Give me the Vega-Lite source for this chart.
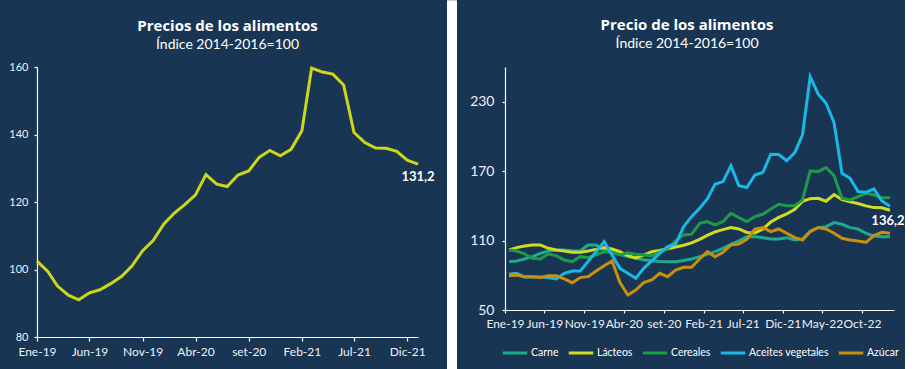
{
  "$schema": "https://vega.github.io/schema/vega-lite/v6.json",
  "background": "#193554",
  "padding": {"top": 0, "left": 8, "right": 0, "bottom": 0},
  "spacing": 12,
  "resolve": {"scale": {"color": "independent"}, "legend": {"color": "independent"}},
  "config": {
    "font": "Lato",
    "view": {"stroke": null},
    "locale": {"number": {"decimal": ",", "thousands": ".", "grouping": [3], "currency": ["", ""]}},
    "axis": {"grid": false, "title": null, "domainColor": "#ffffff", "tickColor": "#ffffff", "labelColor": "#eef1f5", "domainWidth": 1.2, "tickWidth": 1.2},
    "legend": {"layout": {"bottom": {"anchor": "middle"}}}
  },
  "hconcat": [
    {
      "width": 381,
      "height": 270,
      "title": {"text": "Precios de los alimentos", "subtitle": "Índice 2014-2016=100", "anchor": "middle", "frame": "group", "color": "#ffffff", "subtitleColor": "#ffffff", "font": "Open Sans", "fontSize": 15, "fontWeight": "bold", "subtitleFont": "Lato", "subtitleFontSize": 14, "subtitleFontWeight": "normal", "subtitlePadding": 4, "offset": 9},
      "data": {"values": [
        {"fecha": "2019-01-01", "valor": 102.5}, {"fecha": "2019-02-01", "valor": 99.4}, {"fecha": "2019-03-01", "valor": 95.1}, {"fecha": "2019-04-01", "valor": 92.4},
        {"fecha": "2019-05-01", "valor": 91.0}, {"fecha": "2019-06-01", "valor": 93.1}, {"fecha": "2019-07-01", "valor": 94.0}, {"fecha": "2019-08-01", "valor": 95.8},
        {"fecha": "2019-09-01", "valor": 97.9}, {"fecha": "2019-10-01", "valor": 101.0}, {"fecha": "2019-11-01", "valor": 105.6}, {"fecha": "2019-12-01", "valor": 108.6},
        {"fecha": "2020-01-01", "valor": 113.5}, {"fecha": "2020-02-01", "valor": 116.8}, {"fecha": "2020-03-01", "valor": 119.2}, {"fecha": "2020-04-01", "valor": 122.1},
        {"fecha": "2020-05-01", "valor": 128.1}, {"fecha": "2020-06-01", "valor": 125.3}, {"fecha": "2020-07-01", "valor": 124.6}, {"fecha": "2020-08-01", "valor": 128.0},
        {"fecha": "2020-09-01", "valor": 129.2}, {"fecha": "2020-10-01", "valor": 133.2}, {"fecha": "2020-11-01", "valor": 135.3}, {"fecha": "2020-12-01", "valor": 133.7},
        {"fecha": "2021-01-01", "valor": 135.6}, {"fecha": "2021-02-01", "valor": 141.1}, {"fecha": "2021-03-01", "valor": 159.7}, {"fecha": "2021-04-01", "valor": 158.5},
        {"fecha": "2021-05-01", "valor": 157.9}, {"fecha": "2021-06-01", "valor": 154.7}, {"fecha": "2021-07-01", "valor": 140.6}, {"fecha": "2021-08-01", "valor": 137.6},
        {"fecha": "2021-09-01", "valor": 136.0}, {"fecha": "2021-10-01", "valor": 135.9}, {"fecha": "2021-11-01", "valor": 135.0}, {"fecha": "2021-12-01", "valor": 132.4},
        {"fecha": "2022-01-01", "valor": 131.2}
      ]},
      "encoding": {
        "x": {"field": "fecha", "type": "temporal",
          "scale": {"type": "utc", "domain": [{"year": 2019, "month": 1, "date": 1, "utc": true}, {"year": 2022, "month": 1, "date": 1, "utc": true}]},
          "axis": {"values": [
            {"year": 2019, "month": 1, "date": 1, "utc": true}, {"year": 2019, "month": 6, "date": 1, "utc": true}, {"year": 2019, "month": 11, "date": 1, "utc": true},
            {"year": 2020, "month": 4, "date": 1, "utc": true}, {"year": 2020, "month": 9, "date": 1, "utc": true}, {"year": 2021, "month": 2, "date": 1, "utc": true},
            {"year": 2021, "month": 7, "date": 1, "utc": true}, {"year": 2021, "month": 12, "date": 1, "utc": true}],
            "labelExpr": "['Ene','Feb','Mar','Abr','May','Jun','Jul','Ago','set','Oct','Nov','Dic'][utcmonth(datum.value)] + '-' + utcFormat(datum.value, '%y')",
            "labelFontSize": 12, "labelPadding": 5, "tickSize": 4, "labelOverlap": false, "labelFlush": false}},
        "y": {"field": "valor", "type": "quantitative",
          "scale": {"domain": [80, 160], "nice": false, "zero": false},
          "axis": {"values": [80, 100, 120, 140, 160], "labelFontSize": 11, "labelPadding": 6, "tickSize": 3}}
      },
      "layer": [
        {"mark": {"type": "line", "color": "#cdd619", "strokeWidth": 3}},
        {"transform": [{"filter": "time(datum.fecha) == utc(2022, 0, 1)"}],
         "mark": {"type": "text", "color": "#ffffff", "fontWeight": "bold", "fontSize": 13, "dy": 13, "baseline": "middle", "align": "center"},
         "encoding": {"text": {"field": "valor", "type": "quantitative", "format": ".1f"}}}
      ]
    },
    {
      "width": 10,
      "height": 303,
      "data": {"values": [{}]},
      "mark": {"type": "rect", "color": "#ffffff"},
      "encoding": {
        "x": {"datum": 0, "type": "quantitative", "scale": {"domain": [0, 1], "nice": false}, "axis": null},
        "x2": {"datum": 1},
        "y": {"datum": 1.22, "type": "quantitative", "scale": {"domain": [0, 1], "nice": false}, "axis": null},
        "y2": {"datum": 0}
      }
    },
    {
      "width": 389,
      "height": 243,
      "title": {"text": "Precio de los alimentos", "subtitle": "Índice 2014-2016=100", "anchor": "middle", "frame": "bounds", "color": "#ffffff", "subtitleColor": "#ffffff", "font": "Open Sans", "fontSize": 15, "fontWeight": "bold", "subtitleFont": "Lato", "subtitleFontSize": 14, "subtitleFontWeight": "normal", "subtitlePadding": 4, "offset": 16},
      "data": {"values": [
        {"fecha": "2019-01-01", "serie": "Carne", "valor": 91.8}, {"fecha": "2019-02-01", "serie": "Carne", "valor": 92.4}, {"fecha": "2019-03-01", "serie": "Carne", "valor": 94.1}, {"fecha": "2019-04-01", "serie": "Carne", "valor": 96.1},
        {"fecha": "2019-05-01", "serie": "Carne", "valor": 99.0}, {"fecha": "2019-06-01", "serie": "Carne", "valor": 101.0}, {"fecha": "2019-07-01", "serie": "Carne", "valor": 101.9}, {"fecha": "2019-08-01", "serie": "Carne", "valor": 101.9},
        {"fecha": "2019-09-01", "serie": "Carne", "valor": 101.3}, {"fecha": "2019-10-01", "serie": "Carne", "valor": 101.0}, {"fecha": "2019-11-01", "serie": "Carne", "valor": 106.2}, {"fecha": "2019-12-01", "serie": "Carne", "valor": 106.2},
        {"fecha": "2020-01-01", "serie": "Carne", "valor": 101.9}, {"fecha": "2020-02-01", "serie": "Carne", "valor": 99.9}, {"fecha": "2020-03-01", "serie": "Carne", "valor": 98.1}, {"fecha": "2020-04-01", "serie": "Carne", "valor": 96.1},
        {"fecha": "2020-05-01", "serie": "Carne", "valor": 94.7}, {"fecha": "2020-06-01", "serie": "Carne", "valor": 93.5}, {"fecha": "2020-07-01", "serie": "Carne", "valor": 92.5}, {"fecha": "2020-08-01", "serie": "Carne", "valor": 92.0},
        {"fecha": "2020-09-01", "serie": "Carne", "valor": 91.7}, {"fecha": "2020-10-01", "serie": "Carne", "valor": 91.8}, {"fecha": "2020-11-01", "serie": "Carne", "valor": 92.8}, {"fecha": "2020-12-01", "serie": "Carne", "valor": 94.0},
        {"fecha": "2021-01-01", "serie": "Carne", "valor": 96.1}, {"fecha": "2021-02-01", "serie": "Carne", "valor": 98.1}, {"fecha": "2021-03-01", "serie": "Carne", "valor": 100.4}, {"fecha": "2021-04-01", "serie": "Carne", "valor": 103.3},
        {"fecha": "2021-05-01", "serie": "Carne", "valor": 106.8}, {"fecha": "2021-06-01", "serie": "Carne", "valor": 109.7}, {"fecha": "2021-07-01", "serie": "Carne", "valor": 113.4}, {"fecha": "2021-08-01", "serie": "Carne", "valor": 113.4},
        {"fecha": "2021-09-01", "serie": "Carne", "valor": 112.5}, {"fecha": "2021-10-01", "serie": "Carne", "valor": 111.4}, {"fecha": "2021-11-01", "serie": "Carne", "valor": 111.4}, {"fecha": "2021-12-01", "serie": "Carne", "valor": 112.5},
        {"fecha": "2022-01-01", "serie": "Carne", "valor": 110.5}, {"fecha": "2022-02-01", "serie": "Carne", "valor": 111.4}, {"fecha": "2022-03-01", "serie": "Carne", "valor": 118.3}, {"fecha": "2022-04-01", "serie": "Carne", "valor": 121.2},
        {"fecha": "2022-05-01", "serie": "Carne", "valor": 122.0}, {"fecha": "2022-06-01", "serie": "Carne", "valor": 125.5}, {"fecha": "2022-07-01", "serie": "Carne", "valor": 124.1}, {"fecha": "2022-08-01", "serie": "Carne", "valor": 121.2},
        {"fecha": "2022-09-01", "serie": "Carne", "valor": 120.0}, {"fecha": "2022-10-01", "serie": "Carne", "valor": 116.3}, {"fecha": "2022-11-01", "serie": "Carne", "valor": 114.0}, {"fecha": "2022-12-01", "serie": "Carne", "valor": 113.4},
        {"fecha": "2023-01-01", "serie": "Carne", "valor": 113.4},

        {"fecha": "2019-01-01", "serie": "Lácteos", "valor": 101.9}, {"fecha": "2019-02-01", "serie": "Lácteos", "valor": 103.9}, {"fecha": "2019-03-01", "serie": "Lácteos", "valor": 105.3}, {"fecha": "2019-04-01", "serie": "Lácteos", "valor": 106.2},
        {"fecha": "2019-05-01", "serie": "Lácteos", "valor": 106.2}, {"fecha": "2019-06-01", "serie": "Lácteos", "valor": 103.3}, {"fecha": "2019-07-01", "serie": "Lácteos", "valor": 101.9}, {"fecha": "2019-08-01", "serie": "Lácteos", "valor": 101.0},
        {"fecha": "2019-09-01", "serie": "Lácteos", "valor": 99.8}, {"fecha": "2019-10-01", "serie": "Lácteos", "valor": 99.8}, {"fecha": "2019-11-01", "serie": "Lácteos", "valor": 101.0}, {"fecha": "2019-12-01", "serie": "Lácteos", "valor": 102.4},
        {"fecha": "2020-01-01", "serie": "Lácteos", "valor": 103.9}, {"fecha": "2020-02-01", "serie": "Lácteos", "valor": 102.7}, {"fecha": "2020-03-01", "serie": "Lácteos", "valor": 100.5}, {"fecha": "2020-04-01", "serie": "Lácteos", "valor": 97.0},
        {"fecha": "2020-05-01", "serie": "Lácteos", "valor": 95.0}, {"fecha": "2020-06-01", "serie": "Lácteos", "valor": 97.5}, {"fecha": "2020-07-01", "serie": "Lácteos", "valor": 100.4}, {"fecha": "2020-08-01", "serie": "Lácteos", "valor": 101.5},
        {"fecha": "2020-09-01", "serie": "Lácteos", "valor": 103.0}, {"fecha": "2020-10-01", "serie": "Lácteos", "valor": 104.5}, {"fecha": "2020-11-01", "serie": "Lácteos", "valor": 106.0}, {"fecha": "2020-12-01", "serie": "Lácteos", "valor": 108.0},
        {"fecha": "2021-01-01", "serie": "Lácteos", "valor": 111.0}, {"fecha": "2021-02-01", "serie": "Lácteos", "valor": 114.5}, {"fecha": "2021-03-01", "serie": "Lácteos", "valor": 117.5}, {"fecha": "2021-04-01", "serie": "Lácteos", "valor": 119.5},
        {"fecha": "2021-05-01", "serie": "Lácteos", "valor": 121.2}, {"fecha": "2021-06-01", "serie": "Lácteos", "valor": 120.0}, {"fecha": "2021-07-01", "serie": "Lácteos", "valor": 117.0}, {"fecha": "2021-08-01", "serie": "Lácteos", "valor": 116.5},
        {"fecha": "2021-09-01", "serie": "Lácteos", "valor": 120.0}, {"fecha": "2021-10-01", "serie": "Lácteos", "valor": 126.0}, {"fecha": "2021-11-01", "serie": "Lácteos", "valor": 130.0}, {"fecha": "2021-12-01", "serie": "Lácteos", "valor": 133.0},
        {"fecha": "2022-01-01", "serie": "Lácteos", "valor": 137.0}, {"fecha": "2022-02-01", "serie": "Lácteos", "valor": 144.0}, {"fecha": "2022-03-01", "serie": "Lácteos", "valor": 146.2}, {"fecha": "2022-04-01", "serie": "Lácteos", "valor": 146.5},
        {"fecha": "2022-05-01", "serie": "Lácteos", "valor": 144.0}, {"fecha": "2022-06-01", "serie": "Lácteos", "valor": 149.8}, {"fecha": "2022-07-01", "serie": "Lácteos", "valor": 145.5}, {"fecha": "2022-08-01", "serie": "Lácteos", "valor": 143.5},
        {"fecha": "2022-09-01", "serie": "Lácteos", "valor": 142.0}, {"fecha": "2022-10-01", "serie": "Lácteos", "valor": 140.0}, {"fecha": "2022-11-01", "serie": "Lácteos", "valor": 138.5}, {"fecha": "2022-12-01", "serie": "Lácteos", "valor": 138.3},
        {"fecha": "2023-01-01", "serie": "Lácteos", "valor": 136.2},

        {"fecha": "2019-01-01", "serie": "Cereales", "valor": 101.9}, {"fecha": "2019-02-01", "serie": "Cereales", "valor": 101.0}, {"fecha": "2019-03-01", "serie": "Cereales", "valor": 98.5}, {"fecha": "2019-04-01", "serie": "Cereales", "valor": 94.7},
        {"fecha": "2019-05-01", "serie": "Cereales", "valor": 94.1}, {"fecha": "2019-06-01", "serie": "Cereales", "valor": 98.4}, {"fecha": "2019-07-01", "serie": "Cereales", "valor": 97.0}, {"fecha": "2019-08-01", "serie": "Cereales", "valor": 93.2},
        {"fecha": "2019-09-01", "serie": "Cereales", "valor": 91.8}, {"fecha": "2019-10-01", "serie": "Cereales", "valor": 96.1}, {"fecha": "2019-11-01", "serie": "Cereales", "valor": 95.2}, {"fecha": "2019-12-01", "serie": "Cereales", "valor": 97.6},
        {"fecha": "2020-01-01", "serie": "Cereales", "valor": 100.4}, {"fecha": "2020-02-01", "serie": "Cereales", "valor": 99.9}, {"fecha": "2020-03-01", "serie": "Cereales", "valor": 97.6}, {"fecha": "2020-04-01", "serie": "Cereales", "valor": 99.5},
        {"fecha": "2020-05-01", "serie": "Cereales", "valor": 98.1}, {"fecha": "2020-06-01", "serie": "Cereales", "valor": 97.6}, {"fecha": "2020-07-01", "serie": "Cereales", "valor": 97.0}, {"fecha": "2020-08-01", "serie": "Cereales", "valor": 99.9},
        {"fecha": "2020-09-01", "serie": "Cereales", "valor": 103.3}, {"fecha": "2020-10-01", "serie": "Cereales", "valor": 109.7}, {"fecha": "2020-11-01", "serie": "Cereales", "valor": 114.9}, {"fecha": "2020-12-01", "serie": "Cereales", "valor": 115.4},
        {"fecha": "2021-01-01", "serie": "Cereales", "valor": 124.9}, {"fecha": "2021-02-01", "serie": "Cereales", "valor": 126.4}, {"fecha": "2021-03-01", "serie": "Cereales", "valor": 123.5}, {"fecha": "2021-04-01", "serie": "Cereales", "valor": 126.4},
        {"fecha": "2021-05-01", "serie": "Cereales", "valor": 133.6}, {"fecha": "2021-06-01", "serie": "Cereales", "valor": 129.8}, {"fecha": "2021-07-01", "serie": "Cereales", "valor": 126.4}, {"fecha": "2021-08-01", "serie": "Cereales", "valor": 130.7},
        {"fecha": "2021-09-01", "serie": "Cereales", "valor": 132.7}, {"fecha": "2021-10-01", "serie": "Cereales", "valor": 137.3}, {"fecha": "2021-11-01", "serie": "Cereales", "valor": 141.4}, {"fecha": "2021-12-01", "serie": "Cereales", "valor": 140.2},
        {"fecha": "2022-01-01", "serie": "Cereales", "valor": 140.2}, {"fecha": "2022-02-01", "serie": "Cereales", "valor": 145.1}, {"fecha": "2022-03-01", "serie": "Cereales", "valor": 170.2}, {"fecha": "2022-04-01", "serie": "Cereales", "valor": 169.6},
        {"fecha": "2022-05-01", "serie": "Cereales", "valor": 173.1}, {"fecha": "2022-06-01", "serie": "Cereales", "valor": 166.1}, {"fecha": "2022-07-01", "serie": "Cereales", "valor": 146.5}, {"fecha": "2022-08-01", "serie": "Cereales", "valor": 145.1},
        {"fecha": "2022-09-01", "serie": "Cereales", "valor": 148.0}, {"fecha": "2022-10-01", "serie": "Cereales", "valor": 150.9}, {"fecha": "2022-11-01", "serie": "Cereales", "valor": 149.4}, {"fecha": "2022-12-01", "serie": "Cereales", "valor": 147.1},
        {"fecha": "2023-01-01", "serie": "Cereales", "valor": 147.1},

        {"fecha": "2019-01-01", "serie": "Aceites vegetales", "valor": 80.8}, {"fecha": "2019-02-01", "serie": "Aceites vegetales", "valor": 81.7}, {"fecha": "2019-03-01", "serie": "Aceites vegetales", "valor": 78.5}, {"fecha": "2019-04-01", "serie": "Aceites vegetales", "valor": 78.5},
        {"fecha": "2019-05-01", "serie": "Aceites vegetales", "valor": 78.5}, {"fecha": "2019-06-01", "serie": "Aceites vegetales", "valor": 78.0}, {"fecha": "2019-07-01", "serie": "Aceites vegetales", "valor": 76.8}, {"fecha": "2019-08-01", "serie": "Aceites vegetales", "valor": 81.7},
        {"fecha": "2019-09-01", "serie": "Aceites vegetales", "valor": 83.7}, {"fecha": "2019-10-01", "serie": "Aceites vegetales", "valor": 83.7}, {"fecha": "2019-11-01", "serie": "Aceites vegetales", "valor": 92.0}, {"fecha": "2019-12-01", "serie": "Aceites vegetales", "valor": 100.4},
        {"fecha": "2020-01-01", "serie": "Aceites vegetales", "valor": 109.1}, {"fecha": "2020-02-01", "serie": "Aceites vegetales", "valor": 97.6}, {"fecha": "2020-03-01", "serie": "Aceites vegetales", "valor": 86.0}, {"fecha": "2020-04-01", "serie": "Aceites vegetales", "valor": 81.7},
        {"fecha": "2020-05-01", "serie": "Aceites vegetales", "valor": 77.4}, {"fecha": "2020-06-01", "serie": "Aceites vegetales", "valor": 86.0}, {"fecha": "2020-07-01", "serie": "Aceites vegetales", "valor": 92.4}, {"fecha": "2020-08-01", "serie": "Aceites vegetales", "valor": 99.0},
        {"fecha": "2020-09-01", "serie": "Aceites vegetales", "valor": 104.8}, {"fecha": "2020-10-01", "serie": "Aceites vegetales", "valor": 106.8}, {"fecha": "2020-11-01", "serie": "Aceites vegetales", "valor": 122.0}, {"fecha": "2020-12-01", "serie": "Aceites vegetales", "valor": 130.7},
        {"fecha": "2021-01-01", "serie": "Aceites vegetales", "valor": 137.9}, {"fecha": "2021-02-01", "serie": "Aceites vegetales", "valor": 146.0}, {"fecha": "2021-03-01", "serie": "Aceites vegetales", "valor": 158.6}, {"fecha": "2021-04-01", "serie": "Aceites vegetales", "valor": 161.0},
        {"fecha": "2021-05-01", "serie": "Aceites vegetales", "valor": 174.8}, {"fecha": "2021-06-01", "serie": "Aceites vegetales", "valor": 157.5}, {"fecha": "2021-07-01", "serie": "Aceites vegetales", "valor": 155.8}, {"fecha": "2021-08-01", "serie": "Aceites vegetales", "valor": 166.7},
        {"fecha": "2021-09-01", "serie": "Aceites vegetales", "valor": 169.0}, {"fecha": "2021-10-01", "serie": "Aceites vegetales", "valor": 184.6}, {"fecha": "2021-11-01", "serie": "Aceites vegetales", "valor": 184.3}, {"fecha": "2021-12-01", "serie": "Aceites vegetales", "valor": 179.0},
        {"fecha": "2022-01-01", "serie": "Aceites vegetales", "valor": 186.0}, {"fecha": "2022-02-01", "serie": "Aceites vegetales", "valor": 201.3}, {"fecha": "2022-03-01", "serie": "Aceites vegetales", "valor": 251.7}, {"fecha": "2022-04-01", "serie": "Aceites vegetales", "valor": 236.8},
        {"fecha": "2022-05-01", "serie": "Aceites vegetales", "valor": 228.7}, {"fecha": "2022-06-01", "serie": "Aceites vegetales", "valor": 212.0}, {"fecha": "2022-07-01", "serie": "Aceites vegetales", "valor": 168.2}, {"fecha": "2022-08-01", "serie": "Aceites vegetales", "valor": 163.8},
        {"fecha": "2022-09-01", "serie": "Aceites vegetales", "valor": 152.3}, {"fecha": "2022-10-01", "serie": "Aceites vegetales", "valor": 151.7}, {"fecha": "2022-11-01", "serie": "Aceites vegetales", "valor": 154.6}, {"fecha": "2022-12-01", "serie": "Aceites vegetales", "valor": 144.2},
        {"fecha": "2023-01-01", "serie": "Aceites vegetales", "valor": 139.6},

        {"fecha": "2019-01-01", "serie": "Azúcar", "valor": 79.7}, {"fecha": "2019-02-01", "serie": "Azúcar", "valor": 80.3}, {"fecha": "2019-03-01", "serie": "Azúcar", "valor": 78.8}, {"fecha": "2019-04-01", "serie": "Azúcar", "valor": 78.8},
        {"fecha": "2019-05-01", "serie": "Azúcar", "valor": 78.0}, {"fecha": "2019-06-01", "serie": "Azúcar", "valor": 79.7}, {"fecha": "2019-07-01", "serie": "Azúcar", "valor": 79.7}, {"fecha": "2019-08-01", "serie": "Azúcar", "valor": 76.8},
        {"fecha": "2019-09-01", "serie": "Azúcar", "valor": 73.6}, {"fecha": "2019-10-01", "serie": "Azúcar", "valor": 78.0}, {"fecha": "2019-11-01", "serie": "Azúcar", "valor": 78.8}, {"fecha": "2019-12-01", "serie": "Azúcar", "valor": 83.7},
        {"fecha": "2020-01-01", "serie": "Azúcar", "valor": 88.3}, {"fecha": "2020-02-01", "serie": "Azúcar", "valor": 92.4}, {"fecha": "2020-03-01", "serie": "Azúcar", "valor": 73.9}, {"fecha": "2020-04-01", "serie": "Azúcar", "valor": 63.0},
        {"fecha": "2020-05-01", "serie": "Azúcar", "valor": 67.3}, {"fecha": "2020-06-01", "serie": "Azúcar", "valor": 73.6}, {"fecha": "2020-07-01", "serie": "Azúcar", "valor": 75.9}, {"fecha": "2020-08-01", "serie": "Azúcar", "valor": 81.7},
        {"fecha": "2020-09-01", "serie": "Azúcar", "valor": 78.8}, {"fecha": "2020-10-01", "serie": "Azúcar", "valor": 84.6}, {"fecha": "2020-11-01", "serie": "Azúcar", "valor": 86.9}, {"fecha": "2020-12-01", "serie": "Azúcar", "valor": 86.9},
        {"fecha": "2021-01-01", "serie": "Azúcar", "valor": 94.1}, {"fecha": "2021-02-01", "serie": "Azúcar", "valor": 100.4}, {"fecha": "2021-03-01", "serie": "Azúcar", "valor": 96.1}, {"fecha": "2021-04-01", "serie": "Azúcar", "valor": 99.9},
        {"fecha": "2021-05-01", "serie": "Azúcar", "valor": 106.2}, {"fecha": "2021-06-01", "serie": "Azúcar", "valor": 107.1}, {"fecha": "2021-07-01", "serie": "Azúcar", "valor": 111.0}, {"fecha": "2021-08-01", "serie": "Azúcar", "valor": 119.8},
        {"fecha": "2021-09-01", "serie": "Azúcar", "valor": 121.2}, {"fecha": "2021-10-01", "serie": "Azúcar", "valor": 117.7}, {"fecha": "2021-11-01", "serie": "Azúcar", "valor": 120.0}, {"fecha": "2021-12-01", "serie": "Azúcar", "valor": 116.3},
        {"fecha": "2022-01-01", "serie": "Azúcar", "valor": 112.5}, {"fecha": "2022-02-01", "serie": "Azúcar", "valor": 110.5}, {"fecha": "2022-03-01", "serie": "Azúcar", "valor": 117.7}, {"fecha": "2022-04-01", "serie": "Azúcar", "valor": 121.2},
        {"fecha": "2022-05-01", "serie": "Azúcar", "valor": 120.0}, {"fecha": "2022-06-01", "serie": "Azúcar", "valor": 116.3}, {"fecha": "2022-07-01", "serie": "Azúcar", "valor": 112.0}, {"fecha": "2022-08-01", "serie": "Azúcar", "valor": 110.5},
        {"fecha": "2022-09-01", "serie": "Azúcar", "valor": 109.7}, {"fecha": "2022-10-01", "serie": "Azúcar", "valor": 108.5}, {"fecha": "2022-11-01", "serie": "Azúcar", "valor": 114.3}, {"fecha": "2022-12-01", "serie": "Azúcar", "valor": 117.1},
        {"fecha": "2023-01-01", "serie": "Azúcar", "valor": 116.3}
      ]},
      "encoding": {
        "x": {"field": "fecha", "type": "temporal", "timeUnit": "utcyearmonth", "bandPosition": 0.5,
          "scale": {"type": "utc", "domain": [{"year": 2019, "month": 1, "date": 1, "utc": true}, {"year": 2023, "month": 2, "date": 1, "utc": true}]},
          "axis": {"values": [
            {"year": 2019, "month": 1, "date": 1, "utc": true}, {"year": 2019, "month": 6, "date": 1, "utc": true}, {"year": 2019, "month": 11, "date": 1, "utc": true},
            {"year": 2020, "month": 4, "date": 1, "utc": true}, {"year": 2020, "month": 9, "date": 1, "utc": true}, {"year": 2021, "month": 2, "date": 1, "utc": true},
            {"year": 2021, "month": 7, "date": 1, "utc": true}, {"year": 2021, "month": 12, "date": 1, "utc": true}, {"year": 2022, "month": 5, "date": 1, "utc": true},
            {"year": 2022, "month": 10, "date": 1, "utc": true}],
            "labelExpr": "['Ene','Feb','Mar','Abr','May','Jun','Jul','Ago','set','Oct','Nov','Dic'][utcmonth(datum.value)] + '-' + utcFormat(datum.value, '%y')",
            "labelFontSize": 12, "labelPadding": 5, "tickSize": 3, "labelOverlap": false, "labelFlush": false}},
        "y": {"field": "valor", "type": "quantitative",
          "scale": {"domain": [50, 260], "nice": false, "zero": false},
          "axis": {"values": [50, 110, 170, 230], "labelFontSize": 14, "labelPadding": 8, "tickSize": 3}}
      },
      "layer": [
        {"mark": {"type": "line", "strokeWidth": 3},
         "encoding": {"color": {"field": "serie", "type": "nominal",
           "scale": {"domain": ["Carne", "Lácteos", "Cereales", "Aceites vegetales", "Azúcar"], "range": ["#1bab8d", "#d2dc1e", "#1e9a48", "#1ab8e6", "#c8900c"]},
           "legend": {"orient": "bottom", "direction": "horizontal", "title": null, "symbolType": "stroke", "symbolStrokeWidth": 3, "symbolSize": 600, "labelColor": "#ffffff", "labelFontSize": 10.5, "columnPadding": 3, "labelOffset": 2, "offset": 10}}}},
        {"transform": [{"filter": "datum.serie == 'Lácteos' && time(datum.fecha) == utc(2023, 0, 1)"}],
         "mark": {"type": "text", "color": "#ffffff", "fontWeight": "bold", "fontSize": 13, "dy": 11, "dx": -2, "baseline": "middle", "align": "center"},
         "encoding": {"text": {"field": "valor", "type": "quantitative", "format": ".1f"}}}
      ]
    }
  ]
}
